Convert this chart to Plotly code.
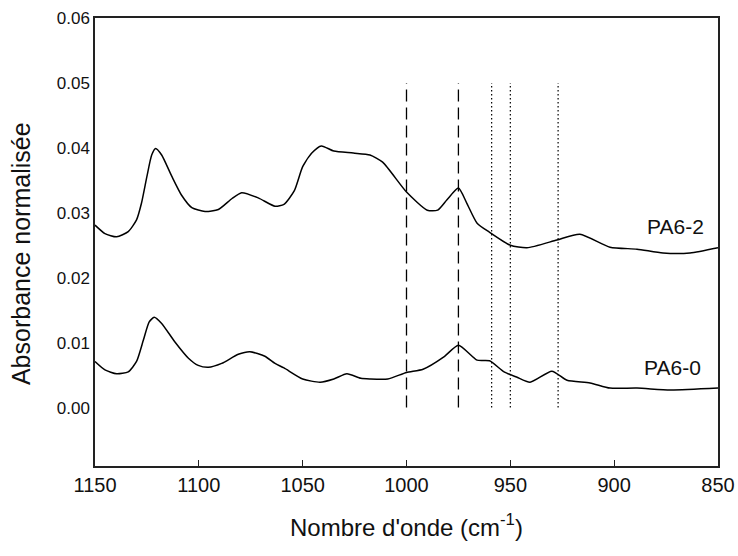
import plotly.graph_objects as go

# Wavenumber (cm-1) and normalised absorbance for the two samples
wn_pa62 = [1150, 1145.2, 1139.6, 1134, 1130, 1127.6, 1125, 1122.7, 1120.8, 1117.9, 1113,
           1108.3, 1103.4, 1097, 1090.6, 1084, 1079.4, 1071.4, 1063.3, 1059, 1054, 1050,
           1045.6, 1041, 1035, 1025.6, 1017.6, 1011.5, 1000, 990, 985, 980.5, 975, 971,
           966, 960, 950, 942, 927.6, 916.5, 902, 889, 876.5, 863.5, 850]
abs_pa62 = [0.0281, 0.0268, 0.0263, 0.0271, 0.0289, 0.0315, 0.0356, 0.0389, 0.0399, 0.0389,
            0.0356, 0.0327, 0.0308, 0.0302, 0.0305, 0.0322, 0.0331, 0.0323, 0.0310, 0.0313,
            0.0334, 0.0371, 0.0392, 0.0403, 0.0395, 0.0392, 0.0389, 0.0378, 0.0332, 0.0304,
            0.0304, 0.0320, 0.0338, 0.0315, 0.0284, 0.0270, 0.0250, 0.0246, 0.0258, 0.0267,
            0.0247, 0.0244, 0.0238, 0.0238, 0.0246]

wn_pa60 = [1150, 1145.2, 1139.6, 1134, 1130, 1126.7, 1123.9, 1121.5, 1118, 1111.5, 1105,
           1100.3, 1095.4, 1089, 1081, 1075.4, 1068.2, 1063.3, 1059, 1050, 1041.6, 1035,
           1028.7, 1022, 1017.6, 1009, 1000, 992, 982, 975, 966, 960, 953, 947, 940.5, 930,
           922.7, 911.6, 902, 889, 873, 850]
abs_pa60 = [0.0071, 0.0058, 0.0052, 0.0055, 0.0071, 0.0104, 0.0132, 0.0139, 0.0130, 0.0101,
            0.0076, 0.0065, 0.0062, 0.0068, 0.0082, 0.0086, 0.0079, 0.0068, 0.0061, 0.0044,
            0.0039, 0.0044, 0.0052, 0.0045, 0.0044, 0.0044, 0.0054, 0.0059, 0.0078, 0.0096,
            0.0073, 0.0072, 0.0055, 0.0047, 0.0039, 0.0056, 0.0042, 0.0038, 0.0030, 0.0030,
            0.0027, 0.0030]

# Band markers
dashed_bands = [1000, 975]
dotted_bands = [959, 950, 927]
band_span = [0.0, 0.05]

sample_labels = ["PA6-2", "PA6-0"]
label_pos = [(870.5, 0.0279), (872, 0.0062)]

x_ticks = [1150, 1100, 1050, 1000, 950, 900, 850]
y_ticks = [0.00, 0.01, 0.02, 0.03, 0.04, 0.05, 0.06]

fig = go.Figure()

for wn, ab in [(wn_pa62, abs_pa62), (wn_pa60, abs_pa60)]:
    fig.add_trace(go.Scatter(
        x=wn, y=ab, mode="lines",
        line=dict(color="black", width=1.5, shape="spline", smoothing=0.6),
        showlegend=False, hoverinfo="skip",
    ))

for b in dashed_bands:
    fig.add_trace(go.Scatter(
        x=[b, b], y=band_span, mode="lines",
        line=dict(color="black", width=1.3, dash="12px,6px"),
        showlegend=False, hoverinfo="skip",
    ))
for b in dotted_bands:
    fig.add_trace(go.Scatter(
        x=[b, b], y=band_span, mode="lines",
        line=dict(color="black", width=1.2, dash="1.5px,2.5px"),
        showlegend=False, hoverinfo="skip",
    ))

for name, (lx, ly) in zip(sample_labels, label_pos):
    fig.add_annotation(x=lx, y=ly, text=name, showarrow=False,
                       font=dict(family="Liberation Sans, Arial", size=21, color="#111"))

# Vertical axis title, set slightly below the plot's mid-height
fig.add_annotation(
    text="Absorbance normalisée", textangle=-90, showarrow=False,
    xref="paper", yref="paper", x=-0.119, y=0.475, xanchor="center", yanchor="middle",
    font=dict(family="Liberation Sans, Arial", size=25, color="#111"),
)

fig.update_layout(
    width=738, height=556,
    margin=dict(l=95, r=20, t=18, b=90),
    paper_bgcolor="white", plot_bgcolor="white",
    font=dict(family="Liberation Sans, Arial", color="#111"),
)

fig.update_xaxes(
    range=[1150, 850], tickvals=x_ticks, ticktext=[str(v) for v in x_ticks],
    ticks="inside", ticklen=6, tickwidth=1.3, tickcolor="#222",
    showline=True, linecolor="#222", linewidth=1.5, mirror=True,
    showgrid=False, zeroline=False, automargin=False,
    tickfont=dict(size=20), title=dict(text="Nombre d'onde (cm<sup>-1</sup>)",
                                       font=dict(size=24), standoff=24),
)
fig.update_yaxes(
    range=[-0.009, 0.06], tickvals=y_ticks, ticktext=[f"{v:.2f}" for v in y_ticks],
    ticks="", showline=True, linecolor="#222", linewidth=1.5, mirror=True,
    showgrid=False, zeroline=False, automargin=False,
    tickfont=dict(size=17),
)

fig.write_html("out.html")
